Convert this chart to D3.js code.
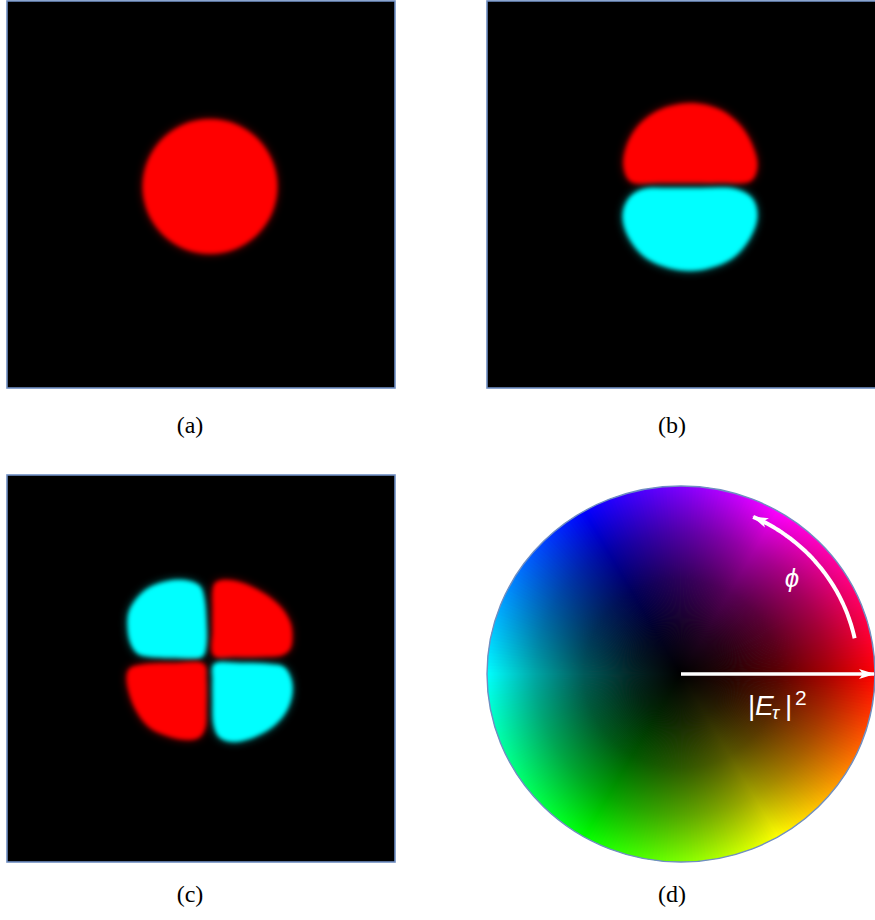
<!DOCTYPE html>
<html>
<head>
<meta charset="utf-8">
<script src="https://cdn.jsdelivr.net/npm/d3@7/dist/d3.min.js"></script>
<style>
  html, body { margin: 0; padding: 0; background: #ffffff; }
  svg { display: block; }
</style>
</head>
<body>
<script>
// ---- mode field lobes (panel units, origin at panel centre, y down) ----
const signColors = { pos: "#ff0000", neg: "#00ffff" };

// (a) fundamental mode: one in-phase disk [cx, cy, r]
const modeA = [
  { sign: "pos", disk: [9, -8, 67] }
];

// (b) two-lobe mode: upper lobe in phase, lower lobe in antiphase
const modeB = [
  { sign: "pos", pts: [[-50,-13],[-57,-27],[-55,-46],[-44,-67],[-22,-84],[9,-91],[38,-85],[60,-68],[72,-47],[76,-28],[70,-14],[40,-12],[9,-12],[-22,-12]] },
  { sign: "neg", pts: [[-38,-5],[-52,4],[-58,21],[-52,43],[-32,65],[9,76],[49,65],[69,43],[76,21],[71,4],[55,-5],[20,-6],[-10,-6]] }
];

// (c) four-lobe mode
const modeC = [
  { sign: "neg", pts: [[-28,-88],[-51,-81],[-64,-70],[-72,-56],[-73,-40],[-70,-25],[-63,-15],[-51,-12],[-26,-11],[1,-12],[5,-23],[5,-48],[3,-70],[-1,-82],[-11,-87]] },
  { sign: "pos", pts: [[12,-78],[14,-85],[21,-88],[39,-86],[61,-76],[79,-62],[89,-46],[91,-32],[89,-20],[82,-14],[59,-12],[34,-12],[13,-13],[12,-38],[12,-60]] },
  { sign: "pos", pts: [[-71,0],[-56,-4],[-26,-5],[3,-4],[5,11],[5,41],[4,59],[-1,68],[-11,71],[-31,68],[-51,59],[-64,43],[-72,23],[-74,7]] },
  { sign: "neg", pts: [[13,-4],[39,-5],[69,-4],[83,-1],[90,11],[91,25],[86,41],[74,56],[54,68],[31,73],[18,68],[13,56],[12,31],[12,11]] }
];

// sub-figure captions
const captions = ["(a)", "(b)", "(c)", "(d)"];

// (d) phase / intensity key
const wheelHueStops = d3.range(0, 360, 1);          // hue in degrees, clockwise from +x on screen
const wheelDarkStops = [[0, 1], [0.25, 0.85], [0.5, 0.65], [0.75, 0.35], [1, 0]]; // [radius fraction, black overlay opacity]
const phaseArc = [12, 66];                           // degrees above the +x axis
const phaseArcRadius = 0.915;                        // fraction of wheel radius
const labelPhi = "\u03D5";

// ---- layout ----
const W = 875, H = 920;
const frame = "#6f8ec2";
const panels = [
  { mode: modeA, x: 7,   y: 1,   w: 388, h: 387, cap: [190, 433] },
  { mode: modeB, x: 487, y: 1,   w: 392, h: 387, cap: [672, 433] },
  { mode: modeC, x: 7,   y: 475, w: 388, h: 387, cap: [190, 902] }
];
const wheel = { cx: 681, cy: 674, rx: 194, ry: 188, cap: [672, 902] };

const svg = d3.select("body").append("svg").attr("width", W).attr("height", H);
const defs = svg.append("defs");

// soft edge: core blur plus a faint wide glow
const f = defs.append("filter").attr("id", "soft")
  .attr("x", "-40%").attr("y", "-40%").attr("width", "180%").attr("height", "180%");
f.append("feGaussianBlur").attr("in", "SourceGraphic").attr("stdDeviation", 5).attr("result", "wide");
f.append("feComponentTransfer").attr("in", "wide").attr("result", "wideDim")
  .append("feFuncA").attr("type", "linear").attr("slope", 0.55);
f.append("feGaussianBlur").attr("in", "SourceGraphic").attr("stdDeviation", 2.3).attr("result", "core");
const fm = f.append("feMerge");
fm.append("feMergeNode").attr("in", "wideDim");
fm.append("feMergeNode").attr("in", "core");

const lobeLine = d3.line().curve(d3.curveCatmullRomClosed.alpha(0.5));

panels.forEach((p, i) => {
  const sx = d3.scaleLinear().domain([-194, 194]).range([p.x, p.x + 388]);
  const sy = d3.scaleLinear().domain([-193.5, 193.5]).range([p.y, p.y + p.h]);
  const g = svg.append("g");
  g.append("rect").attr("x", p.x).attr("y", p.y).attr("width", p.w).attr("height", p.h)
    .attr("fill", "#000").attr("stroke", frame).attr("stroke-width", 1.6);
  const clipId = "clip" + i;
  defs.append("clipPath").attr("id", clipId).append("rect")
    .attr("x", p.x).attr("y", p.y).attr("width", p.w).attr("height", p.h);
  const lobes = g.append("g").attr("clip-path", `url(#${clipId})`);
  p.mode.forEach(l => {
    if (l.disk) {
      lobes.append("ellipse")
        .attr("cx", sx(l.disk[0])).attr("cy", sy(l.disk[1]))
        .attr("rx", sx(l.disk[2]) - sx(0)).attr("ry", sy(l.disk[2]) - sy(0))
        .attr("fill", signColors[l.sign]).attr("filter", "url(#soft)");
    } else {
      lobes.append("path")
        .attr("d", lobeLine(l.pts.map(d => [sx(d[0]), sy(d[1])])))
        .attr("fill", signColors[l.sign]).attr("filter", "url(#soft)");
    }
  });
  g.append("text").attr("x", p.cap[0]).attr("y", p.cap[1])
    .attr("text-anchor", "middle").attr("font-family", "Liberation Serif, DejaVu Serif, serif")
    .attr("font-size", 24).attr("fill", "#000").text(captions[i]);
});

// ---- colour wheel: hue by angle, brightness by radius ----
const wg = svg.append("g")
  .attr("transform", `translate(${wheel.cx},${wheel.cy}) scale(1,${wheel.ry / wheel.rx})`);
const deg = Math.PI / 180;
const wedge = d3.arc().innerRadius(0).outerRadius(wheel.rx);
wg.selectAll("path.hue").data(wheelHueStops).join("path")
  .attr("class", "hue")
  .attr("d", h => wedge({ startAngle: (h + 90 - 0.5) * deg, endAngle: (h + 90 + 0.9) * deg }))
  .attr("fill", h => d3.hsl(h, 1, 0.5).formatHex());

const rg = defs.append("radialGradient").attr("id", "dark")
  .attr("cx", 0).attr("cy", 0).attr("r", wheel.rx).attr("gradientUnits", "userSpaceOnUse");
wheelDarkStops.forEach(s => rg.append("stop").attr("offset", s[0])
  .attr("stop-color", "#000").attr("stop-opacity", s[1]));
wg.append("circle").attr("r", wheel.rx).attr("fill", "url(#dark)");
wg.append("circle").attr("r", wheel.rx).attr("fill", "none")
  .attr("stroke", frame).attr("stroke-width", 1.4).attr("vector-effect", "non-scaling-stroke");

// arrowheads
defs.append("marker").attr("id", "head")
  .attr("viewBox", "-16 -6 18 12").attr("refX", 0).attr("refY", 0)
  .attr("markerWidth", 18).attr("markerHeight", 12).attr("markerUnits", "userSpaceOnUse")
  .attr("orient", "auto")
  .append("path").attr("d", "M1,0 L-15,-5 L-11,0 L-15,5 Z").attr("fill", "#fff");

const wx = d3.scaleLinear().domain([-1, 1]).range([wheel.cx - wheel.rx, wheel.cx + wheel.rx]);
const wy = d3.scaleLinear().domain([-1, 1]).range([wheel.cy - wheel.ry, wheel.cy + wheel.ry]);

// radial arrow: |E|^2 grows outward
svg.append("line")
  .attr("x1", wx(0)).attr("y1", wy(0)).attr("x2", wx(1) - 1).attr("y2", wy(0))
  .attr("stroke", "#fff").attr("stroke-width", 3.6).attr("marker-end", "url(#head)");

// phase arrow: counter-clockwise arc
const arcPts = d3.range(phaseArc[0], phaseArc[1] + 0.01, 1).map(a => [
  wx(phaseArcRadius * Math.cos(a * deg)), wy(-phaseArcRadius * Math.sin(a * deg))
]);
svg.append("path").attr("d", d3.line().curve(d3.curveBasis)(arcPts))
  .attr("fill", "none").attr("stroke", "#fff").attr("stroke-width", 4)
  .attr("marker-end", "url(#head)");

const sans = "Liberation Sans, Arial, DejaVu Sans, sans-serif";
svg.append("text").attr("x", 792).attr("y", 587).attr("text-anchor", "middle")
  .attr("font-family", sans).attr("font-style", "italic").attr("font-size", 26)
  .attr("fill", "#fff").text(labelPhi);

const eLabel = svg.append("text").attr("font-family", sans).attr("fill", "#fff");
eLabel.append("tspan").attr("x", 748).attr("y", 715).attr("font-size", 28).text("|");
eLabel.append("tspan").attr("x", 755).attr("y", 715).attr("font-size", 28).attr("font-style", "italic").text("E");
eLabel.append("tspan").attr("x", 772).attr("y", 719).attr("font-size", 19).attr("font-style", "italic").text("\u03C4");
eLabel.append("tspan").attr("x", 785).attr("y", 715).attr("font-size", 28).text("|");
eLabel.append("tspan").attr("x", 795).attr("y", 705).attr("font-size", 21).text("2");

svg.append("text").attr("x", wheel.cap[0]).attr("y", wheel.cap[1])
  .attr("text-anchor", "middle").attr("font-family", "Liberation Serif, DejaVu Serif, serif")
  .attr("font-size", 24).attr("fill", "#000").text(captions[3]);
</script>
</body>
</html>
